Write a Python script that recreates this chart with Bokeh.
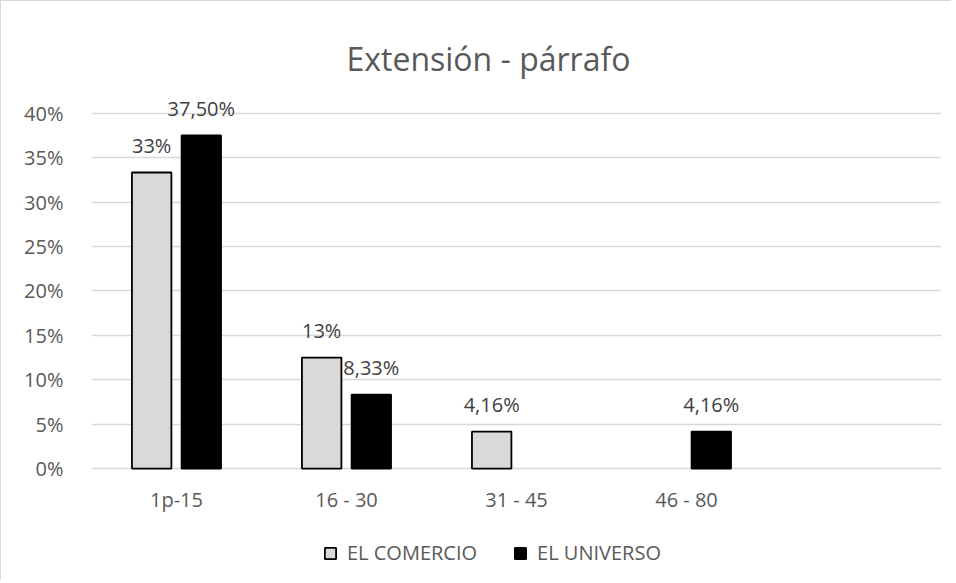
from bokeh.plotting import figure
from bokeh.models import ColumnDataSource, Range1d, FixedTicker, PrintfTickFormatter, Legend, LegendItem
from bokeh.transform import dodge
from bokeh.core.properties import value
from bokeh.embed import file_html
from bokeh.resources import INLINE

# ---- data ----
categories = ["1p-15", "16 - 30", "31 - 45", "46 - 80"]
axis_factors = categories + [" "]
comercio = [33.33, 12.5, 4.16, None]
universo = [37.5, 8.33, None, 4.16]
comercio_labels = ["33%", "13%", "4,16%", ""]
universo_labels = ["37,50%", "8,33%", "", "4,16%"]
y_ticks = [0, 5, 10, 15, 20, 25, 30, 35, 40]
series_names = ["EL COMERCIO", "EL UNIVERSO"]

FONT = "Open Sans"
GREY_TXT = "#595959"

src = ColumnDataSource(dict(
    cat=categories,
    base=[0] * len(categories),
    comercio=[v if v is not None else float("nan") for v in comercio],
    universo=[v if v is not None else float("nan") for v in universo],
    comercio_lab=comercio_labels,
    universo_lab=universo_labels,
))

p = figure(
    x_range=axis_factors,
    y_range=Range1d(-12.6, 42),
    frame_width=850, frame_height=485,
    output_backend="svg", toolbar_location=None,
    min_border_left=90, min_border_right=10,
    min_border_top=94, min_border_bottom=0,
    title="Extensión - párrafo",
)
p.styles = {"border-top": "1px solid #d9d9d9", "border-left": "1px solid #d9d9d9"}

p.title.align = "left"
p.title.text_font = FONT
p.title.text_font_size = "32px"
p.title.text_font_style = "normal"
p.title.text_color = GREY_TXT
p.title.standoff = 31
p.title.offset = 255

p.outline_line_color = None
p.background_fill_color = "white"
p.border_fill_color = "white"

off = 0.146
bw = 0.232
r1 = p.vbar(x=dodge("cat", -off, range=p.x_range), top="comercio", width=bw, source=src,
            fill_color="#d9d9d9", line_color="black", line_width=1.8)
r2 = p.vbar(x=dodge("cat", off, range=p.x_range), top="universo", width=bw, source=src,
            fill_color="black", line_color="black", line_width=1.8)

for col, lab, o in (("comercio", "comercio_lab", -off), ("universo", "universo_lab", off)):
    p.text(x=dodge("cat", o, range=p.x_range), y=col, text=lab, source=src,
           text_align="center", text_baseline="alphabetic", y_offset=-27,
           text_font=value(FONT), text_font_size="20px", text_color="#404040")

# category labels under the zero line
p.text(x="cat", y="base", text="cat", source=src,
       text_align="center", text_baseline="middle", y_offset=31,
       text_font=value(FONT), text_font_size="20px", text_color=GREY_TXT)

# axes
p.xaxis.visible = False
p.yaxis.ticker = FixedTicker(ticks=y_ticks)
p.yaxis.formatter = PrintfTickFormatter(format="%d%%")
ax = p.yaxis[0]
ax.axis_line_color = None
ax.major_tick_line_color = None
ax.minor_tick_line_color = None
ax.major_label_text_font = FONT
ax.major_label_text_color = GREY_TXT
ax.major_label_text_font_size = "20px"
ax.major_label_standoff = 22

p.xgrid.visible = False
p.ygrid.grid_line_color = "#d9d9d9"
p.ygrid.grid_line_width = 1.5

legend = Legend(
    items=[LegendItem(label=series_names[0], renderers=[r1]),
           LegendItem(label=series_names[1], renderers=[r2])],
    orientation="horizontal", location=(232, 14),
    padding=0, margin=0, spacing=36, label_standoff=10,
    glyph_width=14, glyph_height=14,
    border_line_color=None, background_fill_alpha=0,
    label_text_font=FONT, label_text_font_size="20px", label_text_color=GREY_TXT,
)
p.add_layout(legend, "center")

open("out.html", "w").write(file_html(p, INLINE))
